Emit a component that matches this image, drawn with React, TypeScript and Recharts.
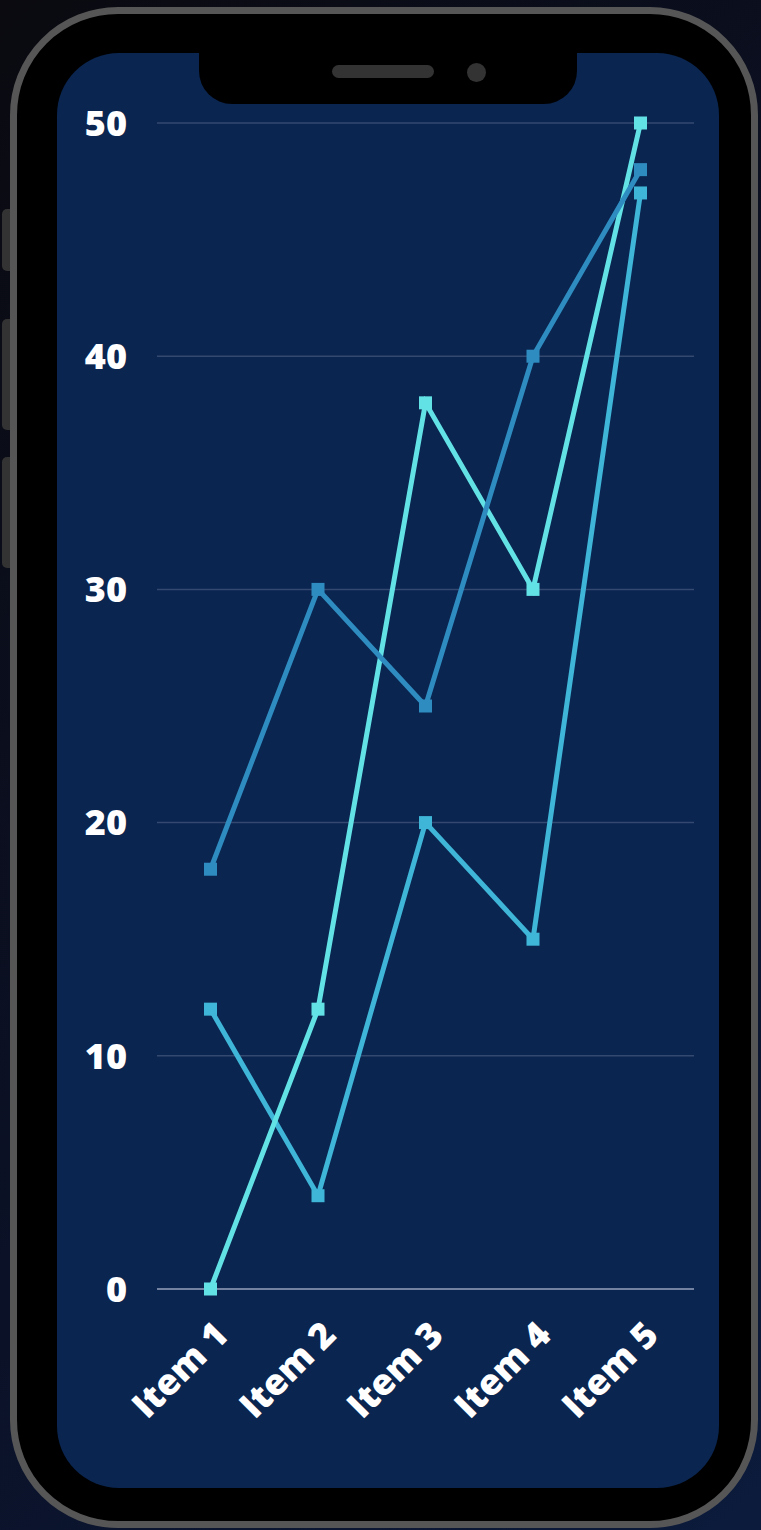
import { LineChart, Line, XAxis, YAxis, CartesianGrid } from "recharts";

const categories = ["Item 1", "Item 2", "Item 3", "Item 4", "Item 5"];
const seriesA = [18, 30, 25, 40, 48];
const seriesB = [0, 12, 38, 30, 50];
const seriesC = [12, 4, 20, 15, 47];
const yTicks = [0, 10, 20, 30, 40, 50];

const data = categories.map((name, i) => ({
  name,
  a: seriesA[i],
  b: seriesB[i],
  c: seriesC[i],
}));

const FONT = "'Open Sans', 'DejaVu Sans', sans-serif";

const squareDot = (color: string) => (props: any) => {
  const { cx, cy, index } = props;
  if (cx == null || cy == null) return <g key={index} />;
  return <rect key={index} x={cx - 6.5} y={cy - 6.5} width={13} height={13} fill={color} />;
};

const XTick = (props: any) => {
  const { x, y, payload } = props;
  const ax = x + 20;
  const ay = y + 40;
  return (
    <text
      x={ax}
      y={ay}
      transform={`rotate(-45, ${ax}, ${ay})`}
      textAnchor="end"
      fill="#ffffff"
      fontSize={36}
      fontWeight={800}
      fontFamily={FONT}
    >
      {payload.value}
    </text>
  );
};

const sideButtons = [
  { top: 209, height: 62 },
  { top: 319, height: 111 },
  { top: 457, height: 111 },
];

export default function App() {
  return (
    <div
      style={{
        position: "absolute",
        left: 0,
        top: 0,
        width: 761,
        height: 1530,
        overflow: "hidden",
        background: "linear-gradient(135deg, #0a0a10 0%, #0b1126 55%, #0c1b3c 100%)",
      }}
    >
      {sideButtons.map((b, i) => (
        <div
          key={i}
          style={{
            position: "absolute",
            left: 2,
            top: b.top,
            width: 12,
            height: b.height,
            background: "#333",
            borderRadius: "5px 0 0 5px",
          }}
        />
      ))}
      {/* phone body */}
      <div
        style={{
          position: "absolute",
          left: 10,
          top: 7,
          width: 734,
          height: 1507,
          border: "7px solid #565656",
          borderRadius: 108,
          background: "#000",
        }}
      />
      {/* screen */}
      <div
        style={{
          position: "absolute",
          left: 57,
          top: 53,
          width: 662,
          height: 1435,
          borderRadius: 62,
          background: "#0a2550",
        }}
      />
      {/* notch */}
      <div
        style={{
          position: "absolute",
          left: 199,
          top: 53,
          width: 378,
          height: 51,
          background: "#000",
          borderRadius: "0 0 33px 33px",
        }}
      />
      <div
        style={{
          position: "absolute",
          left: 332,
          top: 65,
          width: 102,
          height: 13,
          borderRadius: 7,
          background: "#333",
        }}
      />
      <div
        style={{
          position: "absolute",
          left: 467,
          top: 63,
          width: 19,
          height: 19,
          borderRadius: "50%",
          background: "#333",
        }}
      />

      <div style={{ position: "absolute", left: 0, top: 0 }}>
        <LineChart
          width={761}
          height={1530}
          data={data}
          margin={{ top: 123, right: 67, left: 0, bottom: 0 }}
        >
          <CartesianGrid vertical={false} stroke="#34496f" strokeWidth={1.5} />
          <XAxis
            dataKey="name"
            height={241}
            padding={{ left: 53.5, right: 53.5 }}
            tickLine={false}
            axisLine={{ stroke: "#8c9ab3", strokeWidth: 1.5 }}
            tick={<XTick />}
            interval={0}
          />
          <YAxis
            width={157}
            domain={[0, 50]}
            ticks={yTicks}
            axisLine={false}
            tickLine={false}
            tickMargin={24}
            tick={{ fill: "#ffffff", fontSize: 36, fontWeight: 800, fontFamily: FONT }}
          />
          <Line
            type="linear"
            dataKey="c"
            stroke="#3fb5d7"
            strokeWidth={5}
            dot={squareDot("#3fb5d7")}
            activeDot={false}
            isAnimationActive={false}
          />
          <Line
            type="linear"
            dataKey="b"
            stroke="#63e2e6"
            strokeWidth={5}
            dot={squareDot("#63e2e6")}
            activeDot={false}
            isAnimationActive={false}
          />
          <Line
            type="linear"
            dataKey="a"
            stroke="#2f8cc0"
            strokeWidth={5}
            dot={squareDot("#2f8cc0")}
            activeDot={false}
            isAnimationActive={false}
          />
        </LineChart>
      </div>
    </div>
  );
}
